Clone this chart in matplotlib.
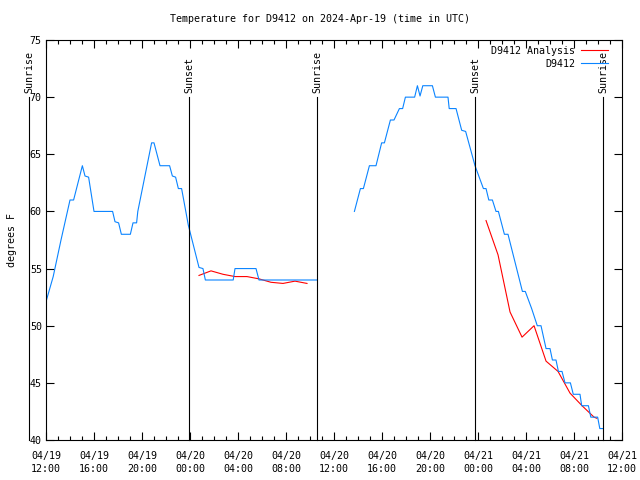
import numpy as np
import matplotlib
matplotlib.use('Agg')
import matplotlib.pyplot as plt
from matplotlib.ticker import MultipleLocator, FixedLocator

# hours after 04/19 12:00 UTC
obs_hours = [0.0, 0.6, 1.25, 2.0, 2.3, 3.03, 3.25, 3.55, 4.0, 5.55, 5.75, 6.05, 6.28, 7.03,
             7.25, 7.55, 7.65, 8.8, 9.0, 9.5, 10.3, 10.53, 10.8, 11.03, 11.3, 11.86, 12.75,
             13.08, 13.28, 15.6, 15.75, 17.5, 17.75, 22.6,
             np.nan,
             25.7, 26.2, 26.45, 26.95, 27.5, 27.97, 28.2, 28.7, 29.0, 29.45, 29.72, 29.95,
             30.72, 30.95, 31.17, 31.4, 32.2, 32.45, 33.5, 33.6, 34.17, 34.64, 34.97, 35.75,
             36.45, 36.67, 36.9, 37.2, 37.5, 37.7, 38.2, 38.5, 39.7, 39.94, 40.47, 40.94,
             41.25, 41.67, 42.0, 42.2, 42.5, 42.7, 43.0, 43.25, 43.7, 43.94, 44.5, 44.64,
             45.2, 45.4, 45.97, 46.15, 46.44]
obs_temp = [52.1, 54.3, 57.5, 61.0, 61.0, 64.0, 63.1, 63.0, 60.0, 60.0, 59.1, 59.0, 58.0, 58.0,
            59.0, 59.0, 60.0, 66.0, 66.0, 64.0, 64.0, 63.1, 63.0, 62.0, 62.0, 58.8, 55.1,
            55.0, 54.0, 54.0, 55.0, 55.0, 54.0, 54.0,
            np.nan,
            60.0, 62.0, 62.0, 64.0, 64.0, 66.0, 66.0, 68.0, 68.0, 69.0, 69.0, 70.0,
            70.0, 71.0, 70.1, 71.0, 71.0, 70.0, 70.0, 69.0, 69.0, 67.1, 67.0, 64.0,
            62.0, 62.0, 61.0, 61.0, 60.0, 60.0, 58.0, 58.0, 53.0, 53.0, 51.5, 50.0,
            50.0, 48.0, 48.0, 47.0, 47.0, 46.0, 46.0, 45.0, 45.0, 44.0, 44.0, 43.0,
            43.0, 42.0, 42.0, 41.0, 41.0]

ana_hours = [12.75, 13.75, 14.75, 15.75, 16.75, 17.75, 18.75, 19.75, 20.75, 21.75,
             np.nan,
             36.67, 37.67, 38.67, 39.67, 40.67, 41.67, 42.67, 43.67, 44.67, 45.67, 45.9]
ana_temp = [54.4, 54.8, 54.5, 54.3, 54.3, 54.1, 53.8, 53.7, 53.9, 53.7,
            np.nan,
            59.2, 56.2, 51.2, 49.0, 50.0, 46.9, 46.0, 44.1, 43.0, 42.0, 41.9]

event_hours = [-1.42, 11.92, 22.58, 35.75, 46.42]
event_names = ['Sunrise', 'Sunset', 'Sunrise', 'Sunset', 'Sunrise']

tick_hours = list(range(0, 49, 4))
tick_labels = ['04/19\n12:00', '04/19\n16:00', '04/19\n20:00', '04/20\n00:00', '04/20\n04:00',
               '04/20\n08:00', '04/20\n12:00', '04/20\n16:00', '04/20\n20:00', '04/21\n00:00',
               '04/21\n04:00', '04/21\n08:00', '04/21\n12:00']

# ----------------------------------------------------------------------------------------------------------------------
plt.rcParams.update({
    "font.family": "DejaVu Sans Mono",
    "font.size": 7.2,
})
fig = plt.figure(figsize=(6.4, 4.8), dpi=100)
ax = fig.add_axes([46 / 640, 1 - 440 / 480, 576 / 640, 400 / 480])
for spine in ax.spines.values():
    spine.set_linewidth(0.8)

ax.plot(ana_hours, ana_temp, color='#ff0000', linewidth=0.8, label='D9412 Analysis')
ax.plot(obs_hours, obs_temp, color='#0a84ff', linewidth=0.8, label='D9412')

for h, name in zip(event_hours, event_names):
    ax.plot([h, h], [70, 40], color='black', linewidth=0.8, clip_on=False)
    ax.text(h, 70.4, name, rotation=90, ha='center', va='bottom', fontsize=7.2)

ax.set_xlim(0, 48)
ax.set_ylim(40, 75)
ax.xaxis.set_major_locator(FixedLocator(tick_hours))
ax.set_xticklabels(tick_labels, linespacing=1.3)
ax.xaxis.set_minor_locator(MultipleLocator(1))
ax.yaxis.set_major_locator(MultipleLocator(5))
ax.tick_params(which='major', direction='in', length=6, width=0.8, top=True, right=True, pad=8)
ax.tick_params(which='minor', direction='in', length=3, width=0.8, top=True, right=False)
ax.tick_params(axis='y', which='minor', left=False, right=False)
ax.tick_params(axis='y', pad=3)

ax.set_ylabel('degrees F', labelpad=9)
fig.text(0.5, 1 - 19 / 480, 'Temperature for D9412 on 2024-Apr-19 (time in UTC)',
         ha='center', va='center', fontsize=7.2)

ax.legend(loc='upper right', bbox_to_anchor=(1 - 8 / 576, 1), frameon=False, markerfirst=False,
          handlelength=2.7, borderaxespad=0.2, labelspacing=0.3, handletextpad=0.6, fontsize=7.2)

fig.savefig('out.png', dpi=100)
